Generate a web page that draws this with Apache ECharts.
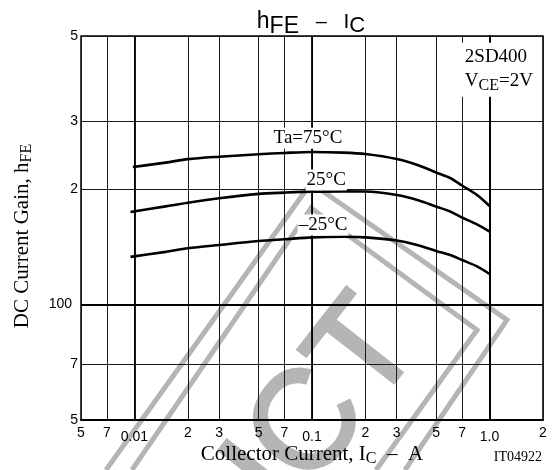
<!DOCTYPE html>
<html><head><meta charset="utf-8">
<script src="https://cdn.jsdelivr.net/npm/echarts@6/dist/echarts.min.js"></script>
<style>html,body{margin:0;padding:0;background:#fff}#c{width:552px;height:470px}</style>
</head><body><div id="c"></div>
<script>
// ---- data ----
const xTickValues = [0.005,0.007,0.01,0.02,0.03,0.05,0.07,0.1,0.2,0.3,0.5,0.7,1,2];
const xTickLabels = ['5','7','0.01','2','3','5','7','0.1','2','3','5','7','1.0','2'];
const yTickValues = [50,70,100,200,300,500];
const yTickLabels = ['5','7','100','2','3','5'];
const decadeX = [0.01,0.1,1];
const decadeY = [100];

const ic75  = [0.0098,0.015,0.02,0.03,0.05,0.07,0.1,0.15,0.2,0.3,0.4,0.5,0.6,0.7,0.85,1.0];
const hfe75 = [228,234,239,242.5,246,248,249.5,248.5,246.4,239.1,230,220.6,213.4,204,192.7,180.4];
const ic25  = [0.0095,0.015,0.02,0.03,0.05,0.07,0.1,0.15,0.2,0.3,0.4,0.5,0.6,0.7,0.85,1.0];
const hfe25 = [174,180,184,189,194,195.5,196.7,197,196.8,192.7,186.5,179.8,174.6,168.4,161.5,154.7];
const icM25  = [0.0095,0.015,0.02,0.03,0.05,0.07,0.1,0.15,0.2,0.3,0.4,0.5,0.6,0.7,0.85,1.0];
const hfeM25 = [133,137,140,142.8,146.2,147.8,149.5,150,149.5,146.7,142.4,137.8,134.5,130.5,125.6,120];

const curveLabels = ['Ta=75°C','25°C','–25°C'];
const labelAnchorX = [0.060,0.092,0.083];
const labelAnchorY = [271,211,161];

const L = Math.log10;
const SANS = '"Liberation Sans", Arial, sans-serif';
const SERIF = '"Liberation Serif", "Times New Roman", serif';

function lbl(vals, labels, v){
  for (let i=0;i<vals.length;i++) if (Math.abs(L(vals[i])-v)<1e-6) return labels[i];
  return '';
}
function toData(xs, ys){ return xs.map((x,i)=>[L(x), L(ys[i])]); }

const chart = echarts.init(document.getElementById('c'), null, {renderer:'canvas'});
const lineStyle = {color:'#000', width:2.6};
const mkSeries = (name, data) => ({
  name, type:'line', data, smooth:0.3, symbol:'none', lineStyle, z:5, silent:true
});

const option = {
  animation:false,
  backgroundColor:'#fff',
  grid:{left:81, right:9, top:36, bottom:50, containLabel:false, outerBoundsMode:'none',
        show:true, borderColor:'#000', borderWidth:1.5, backgroundColor:'transparent'},
  xAxis:{
    type:'value', min:L(xTickValues[0]), max:L(xTickValues[xTickValues.length-1]),
    axisLine:{show:true, lineStyle:{color:'#000', width:2}},
    axisTick:{show:false, customValues:xTickValues.map(L)},
    splitLine:{show:true, lineStyle:{color:'#1a1a1a', width:1}},
    axisLabel:{
      customValues:xTickValues.map(L), margin:6, color:'#000', fontFamily:SANS, fontSize:14,
      formatter:(v)=>{const t=lbl(xTickValues,xTickLabels,v); return t.indexOf('.')>=0?'{d|'+t+'}':t;},
      rich:{d:{fontFamily:SANS, fontSize:14, color:'#000', padding:[4,0,0,0]}}
    },
    name:'{n|Collector Current, I}{s|C}{n|  –  A}', nameLocation:'middle', nameGap:21, nameMoveOverlap:false,
    nameTextStyle:{rich:{n:{fontFamily:SERIF, fontSize:21, color:'#000'}, s:{fontFamily:SERIF, fontSize:16, color:'#000', padding:[10,0,0,0]}}}
  },
  yAxis:{
    type:'value', min:L(yTickValues[0]), max:L(yTickValues[yTickValues.length-1]),
    axisLine:{show:true, lineStyle:{color:'#000', width:2}},
    axisTick:{show:false, customValues:yTickValues.map(L)},
    splitLine:{show:true, lineStyle:{color:'#1a1a1a', width:1}},
    axisLabel:{
      customValues:yTickValues.map(L), margin:3, color:'#000', fontFamily:SANS, fontSize:14,
      formatter:(v)=>{const t=lbl(yTickValues,yTickLabels,v); return t.length>1?'{h|'+t+'}':t;},
      rich:{h:{fontFamily:SANS, fontSize:14, color:'#000', padding:[0,6,0,0]}}
    },
    name:'{n|DC Current Gain, h}{s|FE}', nameLocation:'middle', nameGap:46, nameRotate:90, nameMoveOverlap:false,
    nameTextStyle:{padding:[0,16,0,0], rich:{n:{fontFamily:SERIF, fontSize:21, color:'#000'}, s:{fontFamily:SERIF, fontSize:16, color:'#000', padding:[10,0,0,0]}}}
  },
  series:[
    Object.assign(mkSeries('75', toData(ic75,hfe75)), {
      markLine:{silent:true, symbol:'none', label:{show:false}, emphasis:{disabled:true},
        lineStyle:{color:'#000', width:1.8, type:'solid'},
        data: decadeX.map(x=>({xAxis:L(x)})).concat(decadeY.map(y=>({yAxis:L(y)})))}
    }),
    mkSeries('25', toData(ic25,hfe25)),
    mkSeries('-25', toData(icM25,hfeM25))
  ]
};
chart.setOption(option);

// ---- graphics: watermark, title, annotations ----
const WM = '#b5b5b5';
const g = [];
g.push({type:'polyline', z:-10, silent:true, shape:{points:[[106,470],[311,183],[507,320],[405,470]]}, style:{stroke:WM, lineWidth:5, fill:null}});
g.push({type:'polyline', z:-10, silent:true, shape:{points:[[132,470],[311,208],[477,330],[376,470]]}, style:{stroke:WM, lineWidth:5, fill:null}});
g.push({type:'text', z:-10, silent:true, x:394, y:320, rotation:52*Math.PI/180,
  style:{text:'PRODUCT', font:'140px '+SANS, fill:WM, stroke:WM, lineWidth:3, align:'right', textAlign:'right', verticalAlign:'middle', textVerticalAlign:'middle'}});

// title
g.push({type:'text', z:50, silent:true, x:311, y:22,
  style:{text:'{h|h}{s|FE}{m|   –   }{i|I}{c|C}', align:'center', textAlign:'center', verticalAlign:'middle', textVerticalAlign:'middle',
    rich:{h:{fontSize:23, fontFamily:SANS, fill:'#000'}, s:{fontSize:23, fontFamily:SANS, fill:'#000', padding:[10,0,0,0]},
          m:{fontSize:20, fontFamily:SANS, fill:'#000'}, i:{fontSize:21, fontFamily:SANS, fill:'#000'},
          c:{fontSize:22, fontFamily:SANS, fill:'#000', padding:[7,0,0,0]}}}});

// curve labels
for (let i=0;i<curveLabels.length;i++){
  const p = chart.convertToPixel({gridIndex:0}, [L(labelAnchorX[i]), L(labelAnchorY[i])]);
  g.push({type:'text', z:50, silent:true, x:p[0], y:p[1],
    style:{text:curveLabels[i], font:'19px '+SERIF, fill:'#000', backgroundColor:'#fff', padding:[1,1,1,1],
      align:'left', textAlign:'left', verticalAlign:'middle', textVerticalAlign:'middle'}});
}
// device info box
const pb = chart.convertToPixel({gridIndex:0}, [L(0.68), L(480)]);
g.push({type:'text', z:50, silent:true, x:pb[0], y:pb[1],
  style:{text:'{a|2SD400}\n{a|V}{s|CE}{a|=2V}', backgroundColor:'#fff', padding:[2,6,4,5],
    align:'left', textAlign:'left', verticalAlign:'top', textVerticalAlign:'top',
    rich:{a:{fontSize:19, fontFamily:SERIF, fill:'#000', lineHeight:24}, s:{fontSize:16, fontFamily:SERIF, fill:'#000', padding:[9,0,0,0], lineHeight:24}}}});
// figure code
g.push({type:'text', z:50, silent:true, x:542, y:457,
  style:{text:'IT04922', font:'14px '+SERIF, fill:'#000', align:'right', textAlign:'right', verticalAlign:'middle', textVerticalAlign:'middle'}});

chart.setOption({graphic:{elements:g}});
</script></body></html>
